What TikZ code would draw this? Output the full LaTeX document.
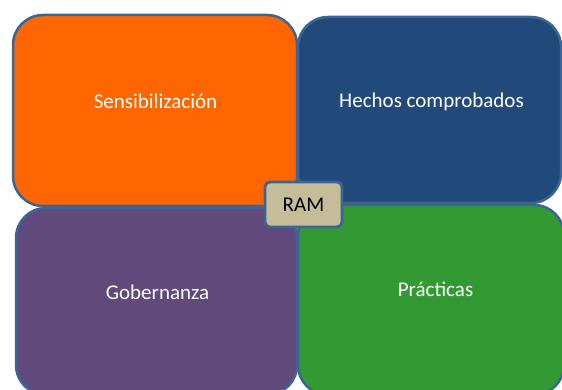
\documentclass[tikz,border=0pt]{standalone}
\usepackage{fontspec}
\setmainfont{Carlito}
\definecolor{cOrange}{HTML}{FF6600}
\definecolor{cBlue}{HTML}{214A7B}
\definecolor{cPurple}{HTML}{604A7B}
\definecolor{cGreen}{HTML}{339933}
\definecolor{cTan}{HTML}{C4BD97}
\definecolor{cEdge}{HTML}{3C6494}
\tikzset{
  panel/.style={draw=cEdge, line width=2.5pt, rounded corners=30pt},
  ptext/.style={text=white, font=\fontsize{21}{24}\selectfont, inner sep=0pt},
  ramtext/.style={text=black, font=\fontsize{21}{24}\selectfont, inner sep=0pt},
}
\begin{document}
\begin{tikzpicture}[x=1pt,y=-1pt]
\useasboundingbox (0,0) rectangle (562,390);
\clip (0,0) rectangle (562,390);
\fill[white] (0,0) rectangle (562,390);
\draw[panel, fill=cOrange] (13,15) rectangle (297,206);
\draw[panel, fill=cBlue] (298,17) rectangle (561,203);
\draw[panel, fill=cPurple] (16,208) rectangle (297,395);
\draw[panel, fill=cGreen] (298,205) rectangle (564,395);
\node[ptext] (sens) at (155.5,101) {Sensibilización};
\node[ptext] (hech) at (431.5,102) {Hechos comprobados};
\node[ptext] (gob) at (157.5,292) {Gobernanza};
\node[ptext] (prac) at (435.5,289) {Prácticas};
\node[draw=cEdge, line width=2.8pt, fill=cTan, rounded corners=5pt, minimum width=77pt, minimum height=45pt, inner sep=0pt] (ramb) at (303.5,204.5) {};
\node[ramtext] (ram) at (ramb.center) {RAM};
\end{tikzpicture}
\end{document}
